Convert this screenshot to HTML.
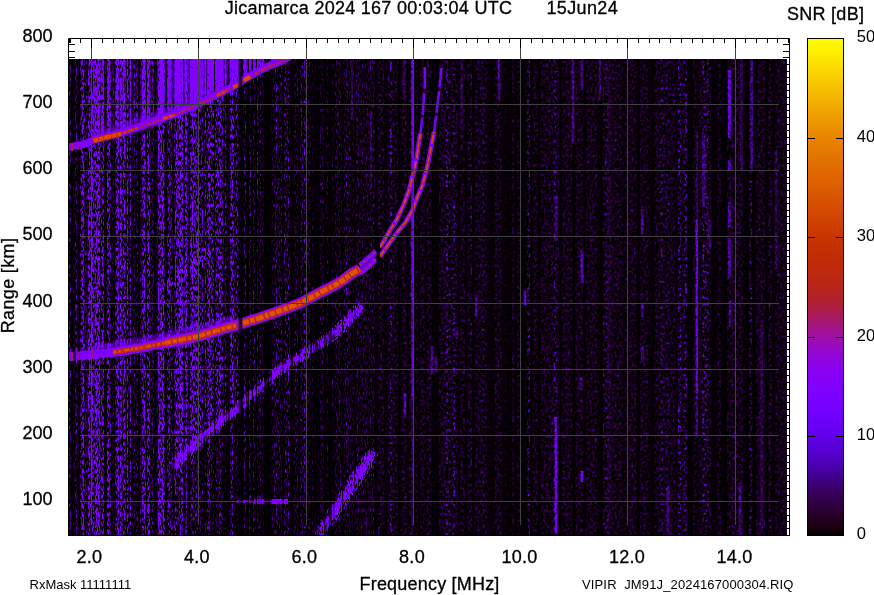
<!DOCTYPE html><html><head><meta charset="utf-8"><title>Ionogram</title><style>
html,body{margin:0;padding:0;background:#fff;}body{width:874px;height:595px;overflow:hidden;font-family:"Liberation Sans",sans-serif;}svg{display:block;will-change:transform}text{font-family:"Liberation Sans",sans-serif;fill:#000}text[font-size="18"],text[font-size="19"]{stroke:#000;stroke-width:0.3px}
</style></head><body>
<svg width="874" height="595" viewBox="0 0 874 595">
<defs>
<linearGradient id="cb" x1="0" y1="1" x2="0" y2="0">
<stop offset="0" stop-color="#000000"/>
<stop offset="0.015" stop-color="#1a0010"/>
<stop offset="0.04" stop-color="#260028"/>
<stop offset="0.07" stop-color="#300048"/>
<stop offset="0.1" stop-color="#3c0070"/>
<stop offset="0.13" stop-color="#4600a0"/>
<stop offset="0.16" stop-color="#5400c8"/>
<stop offset="0.2" stop-color="#6200ec"/>
<stop offset="0.24" stop-color="#7000fc"/>
<stop offset="0.28" stop-color="#7c00ff"/>
<stop offset="0.33" stop-color="#8a00f4"/>
<stop offset="0.37" stop-color="#9408d0"/>
<stop offset="0.4" stop-color="#a010a8"/>
<stop offset="0.435" stop-color="#a81868"/>
<stop offset="0.47" stop-color="#b02030"/>
<stop offset="0.5" stop-color="#b82418"/>
<stop offset="0.55" stop-color="#c02a08"/>
<stop offset="0.6" stop-color="#c83400"/>
<stop offset="0.7" stop-color="#dc5c00"/>
<stop offset="0.8" stop-color="#e88400"/>
<stop offset="0.88" stop-color="#f4b400"/>
<stop offset="0.95" stop-color="#fce000"/>
<stop offset="1" stop-color="#ffff00"/>
</linearGradient>
<linearGradient id="fg" gradientUnits="userSpaceOnUse" x1="68" y1="0" x2="787" y2="0">
<stop offset="0.0000" stop-color="#3b5700"/>
<stop offset="0.1419" stop-color="#3b5700"/>
<stop offset="0.1697" stop-color="#364a00"/>
<stop offset="0.2309" stop-color="#303800"/>
<stop offset="0.2448" stop-color="#1f1f00"/>
<stop offset="0.2809" stop-color="#1a1c00"/>
<stop offset="0.3227" stop-color="#171c00"/>
<stop offset="0.3783" stop-color="#161d00"/>
<stop offset="0.4826" stop-color="#132000"/>
<stop offset="0.6008" stop-color="#112100"/>
<stop offset="1.0000" stop-color="#112100"/>
</linearGradient>
<filter id="nzL" filterUnits="userSpaceOnUse" x="68" y="59" width="310" height="477" color-interpolation-filters="sRGB">
<feTurbulence type="fractalNoise" baseFrequency="0.77 0.23" numOctaves="2" seed="11" result="t"/>
<feColorMatrix in="t" type="matrix" values="1 0 0 0 0 1 0 0 0 0 1 0 0 0 0 0 0 0 0 1" result="n"/>
<feColorMatrix in="SourceGraphic" type="matrix" values="1 0 0 0 0 1 0 0 0 0 1 0 0 0 0 0 0 0 0 1" result="A"/>
<feColorMatrix in="SourceGraphic" type="matrix" values="0 1 0 0 0 0 1 0 0 0 0 1 0 0 0 0 0 0 0 1" result="O"/>
<feComposite in="A" in2="n" operator="arithmetic" k1="1" k2="-0.5" k3="0" k4="0.5" result="p"/>
<feComposite in="p" in2="O" operator="arithmetic" k1="0" k2="12.0" k3="1" k4="-6.0" result="m"/>
<feComponentTransfer in="m"><feFuncR type="table" tableValues="0.000 0.039 0.110 0.180 0.267 0.376 0.471 0.502 0.510 0.518 0.533"/><feFuncG type="table" tableValues="0.000 0.000 0.000 0.000 0.000 0.000 0.000 0.000 0.000 0.000 0.000"/><feFuncB type="table" tableValues="0.000 0.039 0.133 0.298 0.549 0.847 1.000 1.000 1.000 1.000 0.988"/><feFuncA type="linear" slope="0" intercept="1"/></feComponentTransfer><feGaussianBlur stdDeviation="0.5 0.7"/>
</filter>
<filter id="nzR" filterUnits="userSpaceOnUse" x="378" y="59" width="409" height="477" color-interpolation-filters="sRGB">
<feTurbulence type="fractalNoise" baseFrequency="0.41 0.31" numOctaves="2" seed="5" result="t"/>
<feColorMatrix in="t" type="matrix" values="1 0 0 0 0 1 0 0 0 0 1 0 0 0 0 0 0 0 0 1" result="n"/>
<feColorMatrix in="SourceGraphic" type="matrix" values="1 0 0 0 0 1 0 0 0 0 1 0 0 0 0 0 0 0 0 1" result="A"/>
<feColorMatrix in="SourceGraphic" type="matrix" values="0 1 0 0 0 0 1 0 0 0 0 1 0 0 0 0 0 0 0 1" result="O"/>
<feComposite in="A" in2="n" operator="arithmetic" k1="1" k2="-0.5" k3="0" k4="0.5" result="p"/>
<feComposite in="p" in2="O" operator="arithmetic" k1="0" k2="12.0" k3="1" k4="-6.0" result="m"/>
<feComponentTransfer in="m"><feFuncR type="table" tableValues="0.000 0.039 0.110 0.180 0.267 0.376 0.471 0.502 0.510 0.518 0.533"/><feFuncG type="table" tableValues="0.000 0.000 0.000 0.000 0.000 0.000 0.000 0.000 0.000 0.000 0.000"/><feFuncB type="table" tableValues="0.000 0.039 0.133 0.298 0.549 0.847 1.000 1.000 1.000 1.000 0.988"/><feFuncA type="linear" slope="0" intercept="1"/></feComponentTransfer><feGaussianBlur stdDeviation="0.3 0.3"/>
</filter>
</defs>
<rect width="874" height="595" fill="#fff"/>
<clipPath id="dc"><rect x="68" y="59" width="719" height="477"/></clipPath>
<g id="data" clip-path="url(#dc)">
<defs><g id="fld"><rect x="68" y="59" width="719" height="477" fill="url(#fg)"/>
<path d="M93.0 59.0L93.0 140.7L93.4 140.7L106.0 137.4L119.5 134.0L134.6 129.0L151.4 123.0L164.8 118.0L173.2 115.5L185.0 110.5L198.4 104.5L210.2 98.7L222.0 92.8L235.4 86.1L245.5 79.4L258.9 71.8L269.0 66.8L280.8 62.3L291.0 56.5L292.0 59.0Z" fill="#33b800" fill-opacity="0.9"/>
<path d="M160.0 59.0L160.0 119.5L164.8 118.0L173.2 115.5L185.0 110.5L198.4 104.5L210.2 98.7L222.0 92.8L235.4 86.1L245.5 79.4L258.9 71.8L269.0 66.8L280.8 62.3L291.0 56.5L292.0 59.0Z" fill="#17f200" fill-opacity="0.94"/>
<path d="M93.4 135.7L106.0 132.4L119.5 129.0L134.6 124.0L151.4 118.0L164.8 113.0L173.2 110.5L185.0 105.5L198.4 99.5L210.2 93.7L222.0 87.8L235.4 81.1L245.5 74.4L258.9 66.8L269.0 61.8L280.8 57.3L291.0 51.5" stroke="#33d900" stroke-opacity="0.8" stroke-width="14" fill="none"/>
<path d="M68.0 352.6L71.5 352.4L91.4 350.7L112.7 348.5L139.6 344.0L164.8 339.0L198.5 332.2L209.4 329.0L225.2 324.2L236.1 321.4" stroke="#599900" stroke-opacity="0.7" stroke-width="15" fill="none"/>
<path d="M68.0 356.6L71.5 356.4L91.4 354.7L112.0 352.6" stroke="#33ff00" stroke-opacity="0.95" stroke-width="9" fill="none"/>
<path d="M176 536V468L200.5 445L217 431L244 408V536Z" fill="#000" fill-opacity="0.5"/>
<path d="M172.0 468.0L180.3 458.2L200.5 438.0L217.3 424.5L237.5 407.7L250.9 396.0L267.7 380.8L284.5 365.7L299.7 357.3L311.0 350.0L320.0 344.0L335.5 333.0L351.8 316.0L361.9 306.0" stroke="#598c00" stroke-opacity="0.8" stroke-width="11" fill="none"/>
<path d="M172.0 468.0L180.3 458.2L200.5 438.0L217.3 424.5L237.5 407.7L250.9 396.0L267.7 380.8L284.5 365.7L299.7 357.3L311.0 350.0L320.0 344.0L335.5 333.0L351.8 316.0L361.9 306.0" stroke="#2bcc00" stroke-opacity="0.8" stroke-width="6.5" fill="none"/>
<path d="M180.3 458.2L200.5 438.0L217.3 424.5L237.5 407.7L250.9 396.0L267.7 380.8L284.5 365.7L299.7 357.3" stroke="#33ff00" stroke-opacity="0.85" stroke-width="4" fill="none"/>
<path d="M318.0 536.0L330.0 518.0L345.0 495.0L360.0 473.0L374.0 452.0" stroke="#598000" stroke-opacity="0.8" stroke-width="13" fill="none"/>
<path d="M318.0 536.0L330.0 518.0L345.0 495.0L360.0 473.0L374.0 452.0" stroke="#33d900" stroke-opacity="0.85" stroke-width="7" fill="none"/>
<path d="M165 290L210 250" stroke="#669900" stroke-opacity="0.7" stroke-width="10" fill="none"/>
<path d="M236 501.5H254" stroke="#4cb200" stroke-opacity="0.8" stroke-width="3" fill="none"/>
<path d="M254 501.5H288" stroke="#1af200" stroke-width="4.4" fill="none"/>
<rect x="68.0" y="59" width="1.3" height="477" fill="#000" fill-opacity="0.6"/>
<rect x="69.3" y="59" width="1.3" height="477" fill="#000" fill-opacity="0.45"/>
<rect x="70.7" y="59" width="1.3" height="477" fill="#000" fill-opacity="0.96"/>
<rect x="72.0" y="59" width="1.3" height="477" fill="#000" fill-opacity="0.96"/>
<rect x="73.4" y="59" width="1.3" height="477" fill="#000" fill-opacity="0.96"/>
<rect x="74.7" y="59" width="1.3" height="477" fill="#000" fill-opacity="0.45"/>
<rect x="76.0" y="59" width="1.3" height="477" fill="#000" fill-opacity="0.45"/>
<rect x="77.4" y="59" width="1.3" height="477" fill="#000" fill-opacity="0.96"/>
<rect x="78.7" y="59" width="1.3" height="477" fill="#000" fill-opacity="0.96"/>
<rect x="80.1" y="59" width="1.3" height="477" fill="#000" fill-opacity="0.6"/>
<rect x="81.4" y="59" width="1.3" height="477" fill="#4c9e00" fill-opacity="0.15"/>
<rect x="82.7" y="59" width="1.3" height="477" fill="#4c9e00" fill-opacity="0.5"/>
<rect x="84.1" y="59" width="1.3" height="477" fill="#000" fill-opacity="0.6"/>
<rect x="85.4" y="59" width="1.3" height="477" fill="#000" fill-opacity="0.6"/>
<rect x="86.8" y="59" width="1.3" height="477" fill="#000" fill-opacity="0.6"/>
<rect x="88.1" y="59" width="1.3" height="477" fill="#4c9e00" fill-opacity="0.35"/>
<rect x="89.4" y="59" width="1.3" height="477" fill="#4c9e00" fill-opacity="0.25"/>
<rect x="90.8" y="59" width="1.3" height="477" fill="#000" fill-opacity="0.96"/>
<rect x="92.1" y="59" width="1.3" height="477" fill="#4c9e00" fill-opacity="0.35"/>
<rect x="93.5" y="59" width="1.3" height="477" fill="#000" fill-opacity="0.45"/>
<rect x="94.8" y="59" width="1.3" height="477" fill="#4c9e00" fill-opacity="0.25"/>
<rect x="96.1" y="59" width="1.3" height="477" fill="#4c9e00" fill-opacity="0.5"/>
<rect x="98.8" y="59" width="1.3" height="477" fill="#4c9e00" fill-opacity="0.5"/>
<rect x="100.2" y="59" width="1.3" height="477" fill="#000" fill-opacity="0.6"/>
<rect x="104.2" y="59" width="1.3" height="477" fill="#000" fill-opacity="0.96"/>
<rect x="105.5" y="59" width="1.3" height="477" fill="#000" fill-opacity="0.88"/>
<rect x="109.5" y="59" width="1.3" height="477" fill="#000" fill-opacity="0.45"/>
<rect x="110.9" y="59" width="1.3" height="477" fill="#000" fill-opacity="0.88"/>
<rect x="112.2" y="59" width="1.3" height="477" fill="#000" fill-opacity="0.75"/>
<rect x="113.6" y="59" width="1.3" height="477" fill="#000" fill-opacity="0.88"/>
<rect x="114.9" y="59" width="1.3" height="477" fill="#000" fill-opacity="0.45"/>
<rect x="117.6" y="59" width="1.3" height="477" fill="#4c9e00" fill-opacity="0.35"/>
<rect x="118.9" y="59" width="1.3" height="477" fill="#000" fill-opacity="0.75"/>
<rect x="120.3" y="59" width="1.3" height="477" fill="#4c9e00" fill-opacity="0.5"/>
<rect x="121.6" y="59" width="1.3" height="477" fill="#000" fill-opacity="0.45"/>
<rect x="124.3" y="59" width="1.3" height="477" fill="#4c9e00" fill-opacity="0.15"/>
<rect x="125.6" y="59" width="1.3" height="477" fill="#000" fill-opacity="0.75"/>
<rect x="127.0" y="59" width="1.3" height="477" fill="#4c9e00" fill-opacity="0.5"/>
<rect x="128.3" y="59" width="1.3" height="477" fill="#000" fill-opacity="0.88"/>
<rect x="131.0" y="59" width="1.3" height="477" fill="#000" fill-opacity="0.88"/>
<rect x="132.3" y="59" width="1.3" height="477" fill="#000" fill-opacity="0.96"/>
<rect x="133.7" y="59" width="1.3" height="477" fill="#000" fill-opacity="0.45"/>
<rect x="135.0" y="59" width="1.3" height="477" fill="#000" fill-opacity="0.75"/>
<rect x="136.3" y="59" width="1.3" height="477" fill="#000" fill-opacity="0.6"/>
<rect x="137.7" y="59" width="1.3" height="477" fill="#000" fill-opacity="0.88"/>
<rect x="139.0" y="59" width="1.3" height="477" fill="#000" fill-opacity="0.88"/>
<rect x="140.4" y="59" width="1.3" height="477" fill="#000" fill-opacity="0.75"/>
<rect x="145.7" y="59" width="1.3" height="477" fill="#000" fill-opacity="0.88"/>
<rect x="149.7" y="59" width="1.3" height="477" fill="#000" fill-opacity="0.6"/>
<rect x="151.1" y="59" width="1.3" height="477" fill="#000" fill-opacity="0.6"/>
<rect x="152.4" y="59" width="1.3" height="477" fill="#000" fill-opacity="0.6"/>
<rect x="153.8" y="59" width="1.3" height="477" fill="#000" fill-opacity="0.96"/>
<rect x="155.1" y="59" width="1.3" height="477" fill="#000" fill-opacity="0.75"/>
<rect x="156.4" y="59" width="1.3" height="477" fill="#000" fill-opacity="0.88"/>
<rect x="157.8" y="59" width="1.3" height="477" fill="#4c9e00" fill-opacity="0.35"/>
<rect x="161.8" y="59" width="1.3" height="477" fill="#4c9e00" fill-opacity="0.15"/>
<rect x="163.1" y="59" width="1.3" height="477" fill="#4c9e00" fill-opacity="0.5"/>
<rect x="164.5" y="59" width="1.3" height="477" fill="#000" fill-opacity="0.88"/>
<rect x="165.8" y="59" width="1.3" height="477" fill="#000" fill-opacity="0.88"/>
<rect x="167.2" y="59" width="1.3" height="477" fill="#000" fill-opacity="0.45"/>
<rect x="169.8" y="59" width="1.3" height="477" fill="#000" fill-opacity="0.45"/>
<rect x="171.2" y="59" width="1.3" height="477" fill="#000" fill-opacity="0.45"/>
<rect x="172.5" y="59" width="1.3" height="477" fill="#000" fill-opacity="0.96"/>
<rect x="173.9" y="59" width="1.3" height="477" fill="#000" fill-opacity="0.45"/>
<rect x="176.5" y="59" width="1.3" height="477" fill="#4c9e00" fill-opacity="0.15"/>
<rect x="179.2" y="59" width="1.3" height="477" fill="#4c9e00" fill-opacity="0.25"/>
<rect x="180.6" y="59" width="1.3" height="477" fill="#4c9e00" fill-opacity="0.35"/>
<rect x="181.9" y="59" width="1.3" height="477" fill="#4c9e00" fill-opacity="0.5"/>
<rect x="183.2" y="59" width="1.3" height="477" fill="#000" fill-opacity="0.88"/>
<rect x="185.9" y="59" width="1.3" height="477" fill="#4c9e00" fill-opacity="0.5"/>
<rect x="187.3" y="59" width="1.3" height="477" fill="#000" fill-opacity="0.6"/>
<rect x="188.6" y="59" width="1.3" height="477" fill="#000" fill-opacity="0.75"/>
<rect x="191.3" y="59" width="1.3" height="477" fill="#4c9e00" fill-opacity="0.25"/>
<rect x="192.6" y="59" width="1.3" height="477" fill="#4c9e00" fill-opacity="0.25"/>
<rect x="195.3" y="59" width="1.3" height="477" fill="#4c9e00" fill-opacity="0.25"/>
<rect x="200.7" y="59" width="1.3" height="477" fill="#000" fill-opacity="0.45"/>
<rect x="203.3" y="59" width="1.3" height="477" fill="#000" fill-opacity="0.75"/>
<rect x="206.0" y="59" width="1.3" height="477" fill="#000" fill-opacity="0.6"/>
<rect x="207.4" y="59" width="1.3" height="477" fill="#4c9e00" fill-opacity="0.35"/>
<rect x="208.7" y="59" width="1.3" height="477" fill="#4c9e00" fill-opacity="0.25"/>
<rect x="214.1" y="59" width="1.3" height="477" fill="#000" fill-opacity="0.96"/>
<rect x="215.4" y="59" width="1.3" height="477" fill="#4c9e00" fill-opacity="0.15"/>
<rect x="219.4" y="59" width="1.3" height="477" fill="#4c9e00" fill-opacity="0.25"/>
<rect x="223.4" y="59" width="1.3" height="477" fill="#000" fill-opacity="0.75"/>
<rect x="226.1" y="59" width="1.3" height="477" fill="#000" fill-opacity="0.6"/>
<rect x="227.5" y="59" width="1.3" height="477" fill="#000" fill-opacity="0.88"/>
<rect x="228.8" y="59" width="1.3" height="477" fill="#000" fill-opacity="0.6"/>
<rect x="230.1" y="59" width="1.3" height="477" fill="#4c9e00" fill-opacity="0.15"/>
<rect x="231.5" y="59" width="1.3" height="477" fill="#4c9e00" fill-opacity="0.35"/>
<rect x="234.2" y="59" width="1.3" height="477" fill="#000" fill-opacity="0.45"/>
<rect x="239.5" y="59" width="1.3" height="477" fill="#4c9e00" fill-opacity="0.25"/>
<rect x="240.9" y="59" width="1.3" height="477" fill="#000" fill-opacity="0.75"/>
<rect x="242.2" y="59" width="1.3" height="477" fill="#000" fill-opacity="0.88"/>
<rect x="243.5" y="59" width="1.3" height="477" fill="#404700" fill-opacity="0.15"/>
<rect x="246.2" y="59" width="1.3" height="477" fill="#000" fill-opacity="0.6"/>
<rect x="247.6" y="59" width="1.3" height="477" fill="#000" fill-opacity="0.96"/>
<rect x="251.6" y="59" width="1.3" height="477" fill="#000" fill-opacity="0.96"/>
<rect x="255.6" y="59" width="1.3" height="477" fill="#000" fill-opacity="0.96"/>
<rect x="256.9" y="59" width="1.3" height="477" fill="#404700" fill-opacity="0.15"/>
<rect x="258.3" y="59" width="1.3" height="477" fill="#000" fill-opacity="0.45"/>
<rect x="259.6" y="59" width="1.3" height="477" fill="#404700" fill-opacity="0.25"/>
<rect x="261.0" y="59" width="1.3" height="477" fill="#000" fill-opacity="0.6"/>
<rect x="263.6" y="59" width="1.3" height="477" fill="#000" fill-opacity="0.75"/>
<rect x="265.0" y="59" width="1.3" height="477" fill="#000" fill-opacity="0.96"/>
<rect x="266.3" y="59" width="1.3" height="477" fill="#000" fill-opacity="0.96"/>
<rect x="267.7" y="59" width="1.3" height="477" fill="#000" fill-opacity="0.96"/>
<rect x="269.0" y="59" width="1.3" height="477" fill="#000" fill-opacity="0.6"/>
<rect x="270.3" y="59" width="1.3" height="477" fill="#000" fill-opacity="0.75"/>
<rect x="275.7" y="59" width="1.3" height="477" fill="#404700" fill-opacity="0.25"/>
<rect x="277.0" y="59" width="1.3" height="477" fill="#404700" fill-opacity="0.15"/>
<rect x="281.1" y="59" width="1.3" height="477" fill="#404700" fill-opacity="0.25"/>
<rect x="282.4" y="59" width="1.3" height="477" fill="#000" fill-opacity="0.88"/>
<rect x="283.7" y="59" width="1.3" height="477" fill="#404700" fill-opacity="0.15"/>
<rect x="285.1" y="59" width="1.3" height="477" fill="#404700" fill-opacity="0.35"/>
<rect x="287.8" y="59" width="1.3" height="477" fill="#404700" fill-opacity="0.5"/>
<rect x="290.4" y="59" width="1.3" height="477" fill="#000" fill-opacity="0.96"/>
<rect x="291.8" y="59" width="1.3" height="477" fill="#000" fill-opacity="0.6"/>
<rect x="293.1" y="59" width="1.3" height="477" fill="#000" fill-opacity="0.45"/>
<rect x="294.5" y="59" width="1.3" height="477" fill="#404700" fill-opacity="0.15"/>
<rect x="298.5" y="59" width="1.3" height="477" fill="#000" fill-opacity="0.96"/>
<rect x="301.2" y="59" width="1.3" height="477" fill="#404700" fill-opacity="0.25"/>
<rect x="303.8" y="59" width="1.3" height="477" fill="#404700" fill-opacity="0.5"/>
<rect x="305.2" y="59" width="1.3" height="477" fill="#404700" fill-opacity="0.25"/>
<rect x="310.5" y="59" width="1.3" height="477" fill="#000" fill-opacity="0.96"/>
<rect x="313.2" y="59" width="1.3" height="477" fill="#000" fill-opacity="0.88"/>
<rect x="314.6" y="59" width="1.3" height="477" fill="#000" fill-opacity="0.45"/>
<rect x="315.9" y="59" width="1.3" height="477" fill="#000" fill-opacity="0.75"/>
<rect x="317.2" y="59" width="1.3" height="477" fill="#000" fill-opacity="0.6"/>
<rect x="318.6" y="59" width="1.3" height="477" fill="#000" fill-opacity="0.6"/>
<rect x="323.9" y="59" width="1.3" height="477" fill="#000" fill-opacity="0.75"/>
<rect x="325.3" y="59" width="1.3" height="477" fill="#000" fill-opacity="0.6"/>
<rect x="328.0" y="59" width="1.3" height="477" fill="#000" fill-opacity="0.45"/>
<rect x="329.3" y="59" width="1.3" height="477" fill="#000" fill-opacity="0.88"/>
<rect x="330.6" y="59" width="1.3" height="477" fill="#000" fill-opacity="0.8"/>
<rect x="333.3" y="59" width="1.4" height="477" fill="#000" fill-opacity="0.6"/>
<rect x="339.0" y="59" width="1.4" height="477" fill="#4c4000" fill-opacity="0.1"/>
<rect x="341.8" y="59" width="1.5" height="477" fill="#000" fill-opacity="0.8"/>
<rect x="346.3" y="59" width="1.5" height="477" fill="#4c4000" fill-opacity="0.3"/>
<rect x="350.9" y="59" width="1.6" height="477" fill="#000" fill-opacity="0.4"/>
<rect x="354.1" y="59" width="1.6" height="477" fill="#000" fill-opacity="0.6"/>
<rect x="355.7" y="59" width="1.6" height="477" fill="#4c4000" fill-opacity="0.1"/>
<rect x="357.3" y="59" width="1.6" height="477" fill="#4c4000" fill-opacity="0.1"/>
<rect x="372.8" y="59" width="1.8" height="477" fill="#4c4000" fill-opacity="0.2"/>
<rect x="374.6" y="59" width="1.8" height="477" fill="#000" fill-opacity="0.8"/>
<rect x="376.4" y="59" width="1.9" height="477" fill="#000" fill-opacity="0.4"/>
<rect x="378.3" y="59" width="1.9" height="477" fill="#4c4000" fill-opacity="0.1"/>
<rect x="384.0" y="59" width="1.9" height="477" fill="#000" fill-opacity="0.4"/>
<rect x="385.9" y="59" width="2.0" height="477" fill="#000" fill-opacity="0.4"/>
<rect x="389.9" y="59" width="2.0" height="477" fill="#4c4000" fill-opacity="0.3"/>
<rect x="398.0" y="59" width="2.1" height="477" fill="#000" fill-opacity="0.8"/>
<rect x="400.1" y="59" width="2.1" height="477" fill="#000" fill-opacity="0.4"/>
<rect x="404.4" y="59" width="2.2" height="477" fill="#4c4000" fill-opacity="0.1"/>
<rect x="406.5" y="59" width="2.2" height="477" fill="#000" fill-opacity="0.6"/>
<rect x="413.2" y="59" width="2.3" height="477" fill="#000" fill-opacity="0.6"/>
<rect x="417.7" y="59" width="2.3" height="477" fill="#000" fill-opacity="0.6"/>
<rect x="424.7" y="59" width="2.3" height="477" fill="#000" fill-opacity="0.4"/>
<rect x="431.6" y="59" width="2.3" height="477" fill="#000" fill-opacity="0.6"/>
<rect x="434.0" y="59" width="2.3" height="477" fill="#000" fill-opacity="0.6"/>
<rect x="436.3" y="59" width="2.3" height="477" fill="#000" fill-opacity="0.8"/>
<rect x="445.7" y="59" width="2.4" height="477" fill="#4c4000" fill-opacity="0.3"/>
<rect x="448.1" y="59" width="2.4" height="477" fill="#4c4000" fill-opacity="0.1"/>
<rect x="452.8" y="59" width="2.4" height="477" fill="#4c4000" fill-opacity="0.3"/>
<rect x="457.6" y="59" width="2.4" height="477" fill="#000" fill-opacity="0.6"/>
<rect x="464.9" y="59" width="2.4" height="477" fill="#000" fill-opacity="0.8"/>
<rect x="469.7" y="59" width="2.4" height="477" fill="#4c4000" fill-opacity="0.1"/>
<rect x="472.1" y="59" width="2.4" height="477" fill="#000" fill-opacity="0.8"/>
<rect x="482.0" y="59" width="2.5" height="477" fill="#4c4000" fill-opacity="0.1"/>
<rect x="486.9" y="59" width="2.5" height="477" fill="#000" fill-opacity="0.4"/>
<rect x="489.4" y="59" width="2.5" height="477" fill="#000" fill-opacity="0.6"/>
<rect x="491.9" y="59" width="2.5" height="477" fill="#000" fill-opacity="0.6"/>
<rect x="501.9" y="59" width="2.5" height="477" fill="#000" fill-opacity="0.6"/>
<rect x="504.4" y="59" width="2.5" height="477" fill="#000" fill-opacity="0.4"/>
<rect x="506.9" y="59" width="2.5" height="477" fill="#000" fill-opacity="0.6"/>
<rect x="509.5" y="59" width="2.5" height="477" fill="#000" fill-opacity="0.6"/>
<rect x="514.6" y="59" width="2.6" height="477" fill="#000" fill-opacity="0.8"/>
<rect x="519.7" y="59" width="2.6" height="477" fill="#000" fill-opacity="0.4"/>
<rect x="522.3" y="59" width="2.6" height="477" fill="#000" fill-opacity="0.8"/>
<rect x="524.8" y="59" width="2.6" height="477" fill="#000" fill-opacity="0.4"/>
<rect x="527.4" y="59" width="2.6" height="477" fill="#4c4000" fill-opacity="0.3"/>
<rect x="530.0" y="59" width="2.6" height="477" fill="#000" fill-opacity="0.8"/>
<rect x="537.8" y="59" width="2.6" height="477" fill="#000" fill-opacity="0.8"/>
<rect x="553.7" y="59" width="2.7" height="477" fill="#4c4000" fill-opacity="0.3"/>
<rect x="559.0" y="59" width="2.7" height="477" fill="#000" fill-opacity="0.8"/>
<rect x="572.5" y="59" width="2.7" height="477" fill="#000" fill-opacity="0.8"/>
<rect x="583.4" y="59" width="2.7" height="477" fill="#000" fill-opacity="0.8"/>
<rect x="597.2" y="59" width="2.8" height="477" fill="#000" fill-opacity="0.4"/>
<rect x="600.0" y="59" width="2.8" height="477" fill="#000" fill-opacity="0.8"/>
<rect x="602.8" y="59" width="2.8" height="477" fill="#4c4000" fill-opacity="0.1"/>
<rect x="605.6" y="59" width="2.8" height="477" fill="#4c4000" fill-opacity="0.2"/>
<rect x="622.5" y="59" width="2.9" height="477" fill="#000" fill-opacity="0.4"/>
<rect x="636.8" y="59" width="2.9" height="477" fill="#000" fill-opacity="0.8"/>
<rect x="648.5" y="59" width="2.9" height="477" fill="#000" fill-opacity="0.4"/>
<rect x="651.4" y="59" width="2.9" height="477" fill="#000" fill-opacity="0.8"/>
<rect x="660.2" y="59" width="3.0" height="477" fill="#4c4000" fill-opacity="0.2"/>
<rect x="666.1" y="59" width="3.0" height="477" fill="#4c4000" fill-opacity="0.1"/>
<rect x="675.0" y="59" width="3.0" height="477" fill="#000" fill-opacity="0.4"/>
<rect x="678.0" y="59" width="3.0" height="477" fill="#4c4000" fill-opacity="0.3"/>
<rect x="684.1" y="59" width="3.0" height="477" fill="#4c4000" fill-opacity="0.3"/>
<rect x="687.1" y="59" width="3.0" height="477" fill="#000" fill-opacity="0.6"/>
<rect x="690.1" y="59" width="3.0" height="477" fill="#000" fill-opacity="0.6"/>
<rect x="696.2" y="59" width="3.1" height="477" fill="#000" fill-opacity="0.4"/>
<rect x="702.3" y="59" width="3.1" height="477" fill="#4c4000" fill-opacity="0.3"/>
<rect x="705.4" y="59" width="3.1" height="477" fill="#4c4000" fill-opacity="0.2"/>
<rect x="711.5" y="59" width="3.1" height="477" fill="#000" fill-opacity="0.8"/>
<rect x="714.6" y="59" width="3.1" height="477" fill="#000" fill-opacity="0.4"/>
<rect x="720.8" y="59" width="3.1" height="477" fill="#000" fill-opacity="0.6"/>
<rect x="724.0" y="59" width="3.1" height="477" fill="#000" fill-opacity="0.8"/>
<rect x="733.4" y="59" width="3.2" height="477" fill="#4c4000" fill-opacity="0.1"/>
<rect x="742.9" y="59" width="3.2" height="477" fill="#000" fill-opacity="0.4"/>
<rect x="746.0" y="59" width="3.2" height="477" fill="#000" fill-opacity="0.8"/>
<rect x="749.2" y="59" width="3.2" height="477" fill="#4c4000" fill-opacity="0.2"/>
<rect x="752.4" y="59" width="3.2" height="477" fill="#000" fill-opacity="0.8"/>
<rect x="765.3" y="59" width="3.2" height="477" fill="#000" fill-opacity="0.6"/>
<rect x="768.5" y="59" width="3.2" height="477" fill="#4c4000" fill-opacity="0.1"/>
<rect x="771.8" y="59" width="3.3" height="477" fill="#000" fill-opacity="0.6"/>
<rect x="727.8" y="70" width="3" height="68" fill="#0d8500"/>
<rect x="727.8" y="160" width="3" height="11" fill="#0d7300"/>
<rect x="727.8" y="202" width="3" height="25" fill="#0d6b00"/>
<rect x="727.8" y="238" width="3" height="40" fill="#0d6b00"/>
<rect x="728.5" y="301" width="3" height="25" fill="#0d5c00"/>
<rect x="750.1" y="59" width="3" height="112" fill="#0d5c00"/>
<rect x="740.0" y="59" width="3" height="111" fill="#0d4700"/>
<rect x="695.5" y="220" width="2.6" height="173" fill="#0d8000"/>
<rect x="695.5" y="393" width="2.6" height="44" fill="#0d5c00"/>
<rect x="695.5" y="130" width="2.6" height="90" fill="#0d4c00"/>
<rect x="702.0" y="135" width="3" height="72" fill="#0d5c00"/>
<rect x="708.5" y="220" width="3" height="27" fill="#0d5c00"/>
<rect x="640.9" y="209" width="3" height="25" fill="#0d6100"/>
<rect x="640.9" y="303" width="3" height="14" fill="#0d5c00"/>
<rect x="640.9" y="346" width="3" height="15" fill="#0d6100"/>
<rect x="580.5" y="251" width="3" height="32" fill="#0d7300"/>
<rect x="571.5" y="59" width="3" height="85" fill="#0d6100"/>
<rect x="580.5" y="59" width="3" height="31" fill="#0d5c00"/>
<rect x="497.7" y="59" width="2.6" height="41" fill="#0d6100"/>
<rect x="460.4" y="59" width="2.4" height="71" fill="#0d4c00"/>
<rect x="411.2" y="59" width="2.2" height="241" fill="#0d8c00"/>
<rect x="411.2" y="300" width="2.2" height="101" fill="#0d7500"/>
<rect x="411.2" y="401" width="2.2" height="134" fill="#0d4c00"/>
<rect x="774.5" y="150" width="3" height="120" fill="#0d4700"/>
<rect x="554.6" y="417" width="2.8" height="117" fill="#0d8c00"/>
<rect x="580.5" y="471" width="3" height="11" fill="#0d9900"/>
<rect x="738.5" y="482" width="3" height="53" fill="#0d5c00"/>
<rect x="666.5" y="486" width="3" height="49" fill="#0d5c00"/>
<rect x="760.1" y="320" width="3" height="215" fill="#0d4500"/>
<rect x="474.8" y="294" width="2.5" height="23" fill="#0d6100"/>
<rect x="430.5" y="346" width="3" height="29" fill="#0d6600"/>
<rect x="434.5" y="355" width="3" height="17" fill="#0d5c00"/>
<rect x="403.8" y="393" width="2.4" height="22" fill="#0d7300"/>
<rect x="455.8" y="326" width="2.5" height="13" fill="#0d5700"/>
<rect x="579.5" y="377" width="3" height="13" fill="#0d6100"/>
<rect x="351.0" y="60" width="2" height="60" fill="#0d4c00"/>
<rect x="370.0" y="110" width="2" height="80" fill="#0d4c00"/>
<rect x="402.5" y="60" width="3" height="40" fill="#0d4c00"/>
<rect x="607.5" y="59" width="3" height="476" fill="#0d3800"/>
<rect x="523.5" y="290" width="3" height="15" fill="#0d7300"/>
<rect x="554.5" y="195" width="3" height="45" fill="#0d5700"/>
<rect x="598.5" y="59" width="3" height="41" fill="#0d5700"/>
</g></defs>
<g filter="url(#nzL)"><use href="#fld"/></g>
<g filter="url(#nzR)"><use href="#fld"/></g>
<filter id="sb" x="-5%" y="-5%" width="110%" height="110%" color-interpolation-filters="sRGB"><feGaussianBlur stdDeviation="0.55"/></filter>
<filter id="fog" x="-5%" y="-20%" width="110%" height="140%" color-interpolation-filters="sRGB"><feGaussianBlur stdDeviation="1.4 2.2"/></filter>
<g filter="url(#fog)" fill="none"><path d="M92.0 350.1L112.7 348.0L139.6 343.5L164.8 338.5L198.5 331.7L209.4 328.5L225.2 323.7L236.0 320.9" stroke="#7c00ff" stroke-opacity="0.55" stroke-width="11"/><path d="M93.0 137.9L93.4 137.7L106.0 134.4L119.5 131.0L134.6 126.0L151.4 120.0L164.8 115.0L173.2 112.5L185.0 107.5L198.4 101.5L200.0 100.7" stroke="#7c00ff" stroke-opacity="0.5" stroke-width="12"/></g>
<g filter="url(#sb)" fill="none">
<path d="M68.0 356.6L71.5 356.4L73.5 356.2" stroke="#8000ff" stroke-width="8.5" stroke-opacity="0.9"/>
<path d="M76.5 356.0L91.4 354.7L97.0 354.1" stroke="#8000ff" stroke-width="8.5" stroke-opacity="0.92"/>
<path d="M96.0 354.2L112.7 352.5L114.0 352.3" stroke="#8000ff" stroke-width="8" />
<path d="M110.0 352.8L112.7 352.5L139.6 348.0L164.8 343.0L170.0 342.0" stroke="#8000ff" stroke-width="9.5" />
<path d="M165.0 343.0L198.5 336.2L209.4 333.0L225.2 328.2L236.1 325.4L245.4 322.4L258.8 318.2L275.6 312.3L287.4 308.0L300.8 303.0L311.8 297.1L321.0 292.1L334.5 285.4L342.9 280.3L350.3 274.4L359.7 269.0" stroke="#8000ff" stroke-width="10.8" />
<path d="M359.7 265.4L365.1 261.4L370.5 256.6L376.0 251.3" stroke="#8000ff" stroke-width="5.6" />
<path d="M359.7 273.0L365.1 269.0L370.5 264.2L376.0 258.9" stroke="#8000ff" stroke-width="5.6" />
<path d="M359.7 269.0L365.1 265.0L370.5 260.2L376.0 254.9" stroke="#6000d0" stroke-width="3" />
<path d="M113.0 352.4L139.6 348.0L164.8 343.0L166.0 342.8" stroke="#a410a8" stroke-width="6.0" />
<path d="M165.0 343.0L198.5 336.2L209.4 333.0L225.2 328.2L236.1 325.4L245.4 322.4L258.8 318.2L275.6 312.3L287.4 308.0L300.8 303.0L311.8 297.1L321.0 292.1L334.5 285.4L342.9 280.3L350.3 274.4L359.7 269.0" stroke="#a410a8" stroke-width="8.4" />
<path d="M113.0 352.4L139.6 348.0L164.8 343.0L166.0 342.8" stroke="#c42a10" stroke-width="4.8" stroke-dasharray="4 0.8 3 0.9 6 0.7 2.5 1 5 0.8"/>
<path d="M113.5 352.4L139.6 348.0L164.8 343.0L166.0 342.8" stroke="#d84c00" stroke-width="2.4" stroke-dasharray="3 2 2.4 3.5 5 1.7 2 2.6"/>
<path d="M165.0 343.0L198.5 336.2L209.4 333.0L225.2 328.2L236.0 325.4" stroke="#c42a10" stroke-width="6.2" stroke-dasharray="7 0.8 5 0.9 9 0.7 4 1 6 0.8"/>
<path d="M165.0 343.0L198.5 336.2L209.4 333.0L225.2 328.2L236.0 325.4" stroke="#dc5200" stroke-width="3.6" stroke-dasharray="6 1.6 4.4 1.5 8 1.7 3.4 1.6 5.4 1.4"/>
<path d="M243.0 323.2L245.4 322.4L258.8 318.2L275.6 312.3L287.4 308.0L300.8 303.0L311.8 297.1L321.0 292.1L334.5 285.4L342.9 280.3L350.3 274.4L359.7 269.0" stroke="#c42a10" stroke-width="7.2" stroke-dasharray="7 0.8 5 0.9 9 0.7 4 1 6 0.8"/>
<path d="M243.0 323.2L245.4 322.4L258.8 318.2L275.6 312.3L287.4 308.0L300.8 303.0L311.8 297.1L321.0 292.1L334.5 285.4L342.9 280.3L350.3 274.4L359.7 269.0" stroke="#de5400" stroke-width="4.6" stroke-dasharray="6 1.6 4.4 1.5 8 1.7 3.4 1.6 5.4 1.4"/>
<path d="M359.7 265.4L365.1 261.4L370.5 256.6L376.0 251.3" stroke="#b81c50" stroke-width="2.0" stroke-dasharray="2 3 3 4"/>
<path d="M359.7 273.0L365.1 269.0L370.5 264.2L376.0 258.9" stroke="#b81c50" stroke-width="2.0" stroke-dasharray="3 4 2 3"/>
<path d="M72.0 352.0L72.0 361.0" stroke="#b02040" stroke-width="1.6" />
<path d="M78.0 352.0L78.0 360.0" stroke="#a01860" stroke-width="1.2" />
<path d="M92.0 350.0L92.0 359.0" stroke="#b02040" stroke-width="1.4" />
<path d="M380.0 247.0L382.1 244.0L388.8 232.3L397.2 218.8L404.0 203.7L409.0 190.3L412.4 176.8L414.8 168.0L416.8 157.8L418.4 145.7L420.4 133.6" stroke="#8000ff" stroke-width="4.6" />
<path d="M380.0 247.0L382.1 244.0L388.8 232.3L397.2 218.8L404.0 203.7L409.0 190.3L412.4 176.8L414.8 168.0L416.8 157.8L418.4 145.7L420.4 133.6" stroke="#b01c60" stroke-width="2.2" stroke-dasharray="14 3 10 4 12 5"/>
<path d="M380.0 247.0L382.1 244.0L388.8 232.3L397.2 218.8L404.0 203.7L409.0 190.3L412.4 176.8L414.8 168.0L416.8 157.8L418.4 145.7L420.4 133.6" stroke="#d84a00" stroke-width="1.5" stroke-dasharray="7 3 9 2 5 3"/>
<path d="M420.4 133.6L422.8 113.5L424.8 85.2L424.8 67.0" stroke="#7400f8" stroke-width="2.6" stroke-dasharray="16 3 22 4 30 3"/>
<path d="M380.0 256.5L382.1 253.3L388.8 244.0L397.2 232.3L405.6 222.2L412.4 210.4L417.4 197.0L422.4 185.2L426.5 170.0L429.5 155.8L432.1 141.7L434.1 131.6" stroke="#8000ff" stroke-width="4.6" />
<path d="M380.0 256.5L382.1 253.3L388.8 244.0L397.2 232.3L405.6 222.2L412.4 210.4L417.4 197.0L422.4 185.2L426.5 170.0L429.5 155.8L432.1 141.7L434.1 131.6" stroke="#b01c60" stroke-width="2.2" stroke-dasharray="14 3 10 4 12 5"/>
<path d="M380.0 256.5L382.1 253.3L388.8 244.0L397.2 232.3L405.6 222.2L412.4 210.4L417.4 197.0L422.4 185.2L426.5 170.0L429.5 155.8L432.1 141.7L434.1 131.6" stroke="#d84a00" stroke-width="1.5" stroke-dasharray="7 3 9 2 5 3"/>
<path d="M434.1 131.6L435.9 117.5L438.1 99.4L440.6 77.2L441.0 68.0" stroke="#7400f8" stroke-width="2.6" stroke-dasharray="16 3 22 4 30 3"/>
<path d="M68.0 147.2L71.6 146.6L84.2 144.1L93.4 139.9L106.0 136.6L119.5 133.2L134.6 128.2L151.4 122.2L164.8 117.2L173.2 114.7L185.0 109.7L198.4 103.7L210.2 97.9L222.0 92.0L235.4 85.3L245.5 78.6L258.9 71.0L269.0 66.0L280.8 61.5L291.0 55.7" stroke="#8000ff" stroke-width="7.4" />
<path d="M121.0 133.5L134.6 129.0L151.4 123.0L164.8 118.0L173.2 115.5L185.0 110.5L198.4 104.5L210.2 98.7L222.0 92.8L235.4 86.1L245.5 79.4L258.9 71.8L269.0 66.8L280.8 62.3L290.0 57.1" stroke="#a81470" stroke-width="2.0" stroke-dasharray="9 2 6 3 12 2"/>
<path d="M93.0 140.9L93.4 140.7L106.0 137.4L119.5 134.0L121.5 133.3" stroke="#bc2418" stroke-width="5.4" />
<path d="M93.5 140.7L106.0 137.4L119.5 134.0L121.0 133.5" stroke="#d84a00" stroke-width="3.8" stroke-dasharray="5 0.9 4 1 7 0.8"/>
<path d="M123.0 132.8L134.6 129.0L138.0 127.8" stroke="#cc3408" stroke-width="2.8" stroke-dasharray="4 1 6 1.2"/>
<path d="M148.0 124.2L151.4 123.0L160.0 119.8" stroke="#b82030" stroke-width="2.2" stroke-dasharray="3 2"/>
<path d="M163.0 118.7L164.8 118.0L173.2 115.5L175.0 114.7" stroke="#d04008" stroke-width="3.2" stroke-dasharray="5 1"/>
<path d="M182.0 111.8L185.0 110.5L193.0 106.9" stroke="#b02050" stroke-width="2.0" stroke-dasharray="3 2.5"/>
<path d="M198.0 104.7L198.4 104.5L205.0 101.3" stroke="#b02040" stroke-width="2.0" />
<path d="M217.0 95.3L222.0 92.8L227.0 90.3" stroke="#cc3808" stroke-width="3.6" stroke-dasharray="4 1"/>
<path d="M233.0 87.3L235.4 86.1L238.0 84.4" stroke="#d04008" stroke-width="3.6" />
<path d="M244.0 80.4L245.5 79.4L250.0 76.8" stroke="#dc4c00" stroke-width="4.2" />
<path d="M255.0 74.0L258.9 71.8L269.0 66.8L275.0 64.5" stroke="#b82040" stroke-width="2.6" stroke-dasharray="4 2.5 6 2"/>
<path d="M280.0 62.6L280.8 62.3L287.0 58.8" stroke="#a81860" stroke-width="2.0" />
<path d="M72.3 143.5L72.3 151.0" stroke="#b82430" stroke-width="1.6" />
<path d="M78.0 143.0L78.0 150.0" stroke="#a81860" stroke-width="1.3" />
</g>
<rect x="238.6" y="59" width="3.6" height="477" fill="#000" fill-opacity="0.8"/>
<rect x="376.6" y="236" width="3.2" height="30" fill="#000" fill-opacity="0.9"/>
</g>
<rect x="68" y="38" width="721" height="21" fill="#fff"/>
<path d="M91.5 38V525M198.5 38V525M306.5 38V525M413.5 38V525M520.5 38V525M627.5 38V525M735.5 38V525M80 501.5H779M80 435.5H779M80 369.5H779M80 303.5H779M80 236.5H779M80 170.5H779M80 104.5H779" stroke="#404040" stroke-width="1" fill="none"/>
<path d="M68.5 535.5V38.5H789.5V535.5" stroke="#000" stroke-width="1" fill="none"/>
<path d="M68 535.5H790" stroke="#000" stroke-width="1" fill="none"/>
<path d="M70.5 38v5M80.5 38v5M102.5 38v5M113.5 38v5M123.5 38v5M134.5 38v5M145.5 38v5M155.5 38v5M166.5 38v5M177.5 38v5M188.5 38v5M209.5 38v5M220.5 38v5M231.5 38v5M241.5 38v5M252.5 38v5M263.5 38v5M273.5 38v5M284.5 38v5M295.5 38v5M316.5 38v5M327.5 38v5M338.5 38v5M348.5 38v5M359.5 38v5M370.5 38v5M381.5 38v5M391.5 38v5M402.5 38v5M424.5 38v5M434.5 38v5M445.5 38v5M456.5 38v5M466.5 38v5M477.5 38v5M488.5 38v5M499.5 38v5M509.5 38v5M531.5 38v5M542.5 38v5M552.5 38v5M563.5 38v5M574.5 38v5M584.5 38v5M595.5 38v5M606.5 38v5M617.5 38v5M638.5 38v5M649.5 38v5M659.5 38v5M670.5 38v5M681.5 38v5M692.5 38v5M702.5 38v5M713.5 38v5M724.5 38v5M745.5 38v5M756.5 38v5M767.5 38v5M777.5 38v5M788.5 38v5M69.5 38v5M91.5 38v10M91.5 536v-10M198.5 38v10M198.5 536v-10M306.5 38v10M306.5 536v-10M413.5 38v10M413.5 536v-10M520.5 38v10M520.5 536v-10M627.5 38v10M627.5 536v-10M735.5 38v10M735.5 536v-10M68 501.5h12M790 501.5h-11M68 435.5h12M790 435.5h-11M68 369.5h12M790 369.5h-11M68 303.5h12M790 303.5h-11M68 236.5h12M790 236.5h-11M68 170.5h12M790 170.5h-11M68 104.5h12M790 104.5h-11M790 528.5h-3M790 521.5h-3M790 515.5h-3M790 508.5h-3M790 501.5h-3M790 495.5h-3M790 488.5h-3M790 481.5h-3M790 475.5h-3M790 468.5h-3M790 462.5h-3M790 455.5h-3M790 448.5h-3M790 442.5h-3M790 435.5h-3M790 428.5h-3M790 422.5h-3M790 415.5h-3M790 409.5h-3M790 402.5h-3M790 395.5h-3M790 389.5h-3M790 382.5h-3M790 375.5h-3M790 369.5h-3M790 362.5h-3M790 356.5h-3M790 349.5h-3M790 342.5h-3M790 336.5h-3M790 329.5h-3M790 322.5h-3M790 316.5h-3M790 309.5h-3M790 303.5h-3M790 296.5h-3M790 289.5h-3M790 283.5h-3M790 276.5h-3M790 269.5h-3M790 263.5h-3M790 256.5h-3M790 250.5h-3M790 243.5h-3M790 236.5h-3M790 230.5h-3M790 223.5h-3M790 216.5h-3M790 210.5h-3M790 203.5h-3M790 197.5h-3M790 190.5h-3M790 183.5h-3M790 177.5h-3M790 170.5h-3M790 163.5h-3M790 157.5h-3M790 150.5h-3M790 144.5h-3M790 137.5h-3M790 130.5h-3M790 124.5h-3M790 117.5h-3M790 110.5h-3M790 104.5h-3M790 97.5h-3M790 90.5h-3M790 84.5h-3M790 77.5h-3M790 71.5h-3M790 64.5h-3M68 57.5h7M790 57.5h-7M68 51.5h7M790 51.5h-7M68 44.5h7M790 44.5h-7" stroke="#000" stroke-width="1" fill="none"/>
<rect x="807.5" y="38.5" width="36" height="497" fill="url(#cb)" stroke="#000" stroke-width="1"/>
<path d="M807 436.5h8M844 436.5h-8M807 337.5h8M844 337.5h-8M807 237.5h8M844 237.5h-8M807 138.5h8M844 138.5h-8" stroke="#000" stroke-width="1" fill="none"/>
<text x="856.8" y="538.7" font-size="16.6">0</text>
<text x="856.8" y="439.7" font-size="16.6">10</text>
<text x="856.8" y="340.7" font-size="16.6">20</text>
<text x="856.8" y="240.7" font-size="16.6">30</text>
<text x="856.8" y="141.7" font-size="16.6">40</text>
<text x="856.8" y="41.7" font-size="16.6">50</text>
<text x="224.7" y="13.5" font-size="18" letter-spacing="0.27">Jicamarca 2024 167 00:03:04 UTC</text>
<text x="546.5" y="13.5" font-size="18" letter-spacing="0.36">15Jun24</text>
<text x="787" y="20.3" font-size="18" letter-spacing="0.27">SNR [dB]</text>
<text transform="translate(52.6,505.4) scale(0.95,1)" font-size="19" text-anchor="end">100</text>
<text transform="translate(52.6,439.1) scale(0.95,1)" font-size="19" text-anchor="end">200</text>
<text transform="translate(52.6,372.8) scale(0.95,1)" font-size="19" text-anchor="end">300</text>
<text transform="translate(52.6,306.6) scale(0.95,1)" font-size="19" text-anchor="end">400</text>
<text transform="translate(52.6,240.3) scale(0.95,1)" font-size="19" text-anchor="end">500</text>
<text transform="translate(52.6,174.0) scale(0.95,1)" font-size="19" text-anchor="end">600</text>
<text transform="translate(52.6,107.7) scale(0.95,1)" font-size="19" text-anchor="end">700</text>
<text transform="translate(52.6,41.5) scale(0.95,1)" font-size="19" text-anchor="end">800</text>
<text x="89.4" y="562.5" font-size="18" text-anchor="middle" letter-spacing="0.3">2.0</text>
<text x="196.9" y="562.5" font-size="18" text-anchor="middle" letter-spacing="0.3">4.0</text>
<text x="304.4" y="562.5" font-size="18" text-anchor="middle" letter-spacing="0.3">6.0</text>
<text x="412.0" y="562.5" font-size="18" text-anchor="middle" letter-spacing="0.3">8.0</text>
<text x="519.5" y="562.5" font-size="18" text-anchor="middle" letter-spacing="0.3">10.0</text>
<text x="627.0" y="562.5" font-size="18" text-anchor="middle" letter-spacing="0.3">12.0</text>
<text x="734.5" y="562.5" font-size="18" text-anchor="middle" letter-spacing="0.3">14.0</text>
<text x="359.5" y="590" font-size="18" letter-spacing="0.2">Frequency [MHz]</text>
<text transform="translate(14.3,333.3) rotate(-90)" font-size="18" letter-spacing="0.35">Range [km]</text>
<text x="29.5" y="588.8" font-size="13">RxMask 11111111</text>
<text x="582" y="588.8" font-size="13" letter-spacing="0.14" xml:space="preserve">VIPIR  JM91J_2024167000304.RIQ</text>
</svg></body></html>
